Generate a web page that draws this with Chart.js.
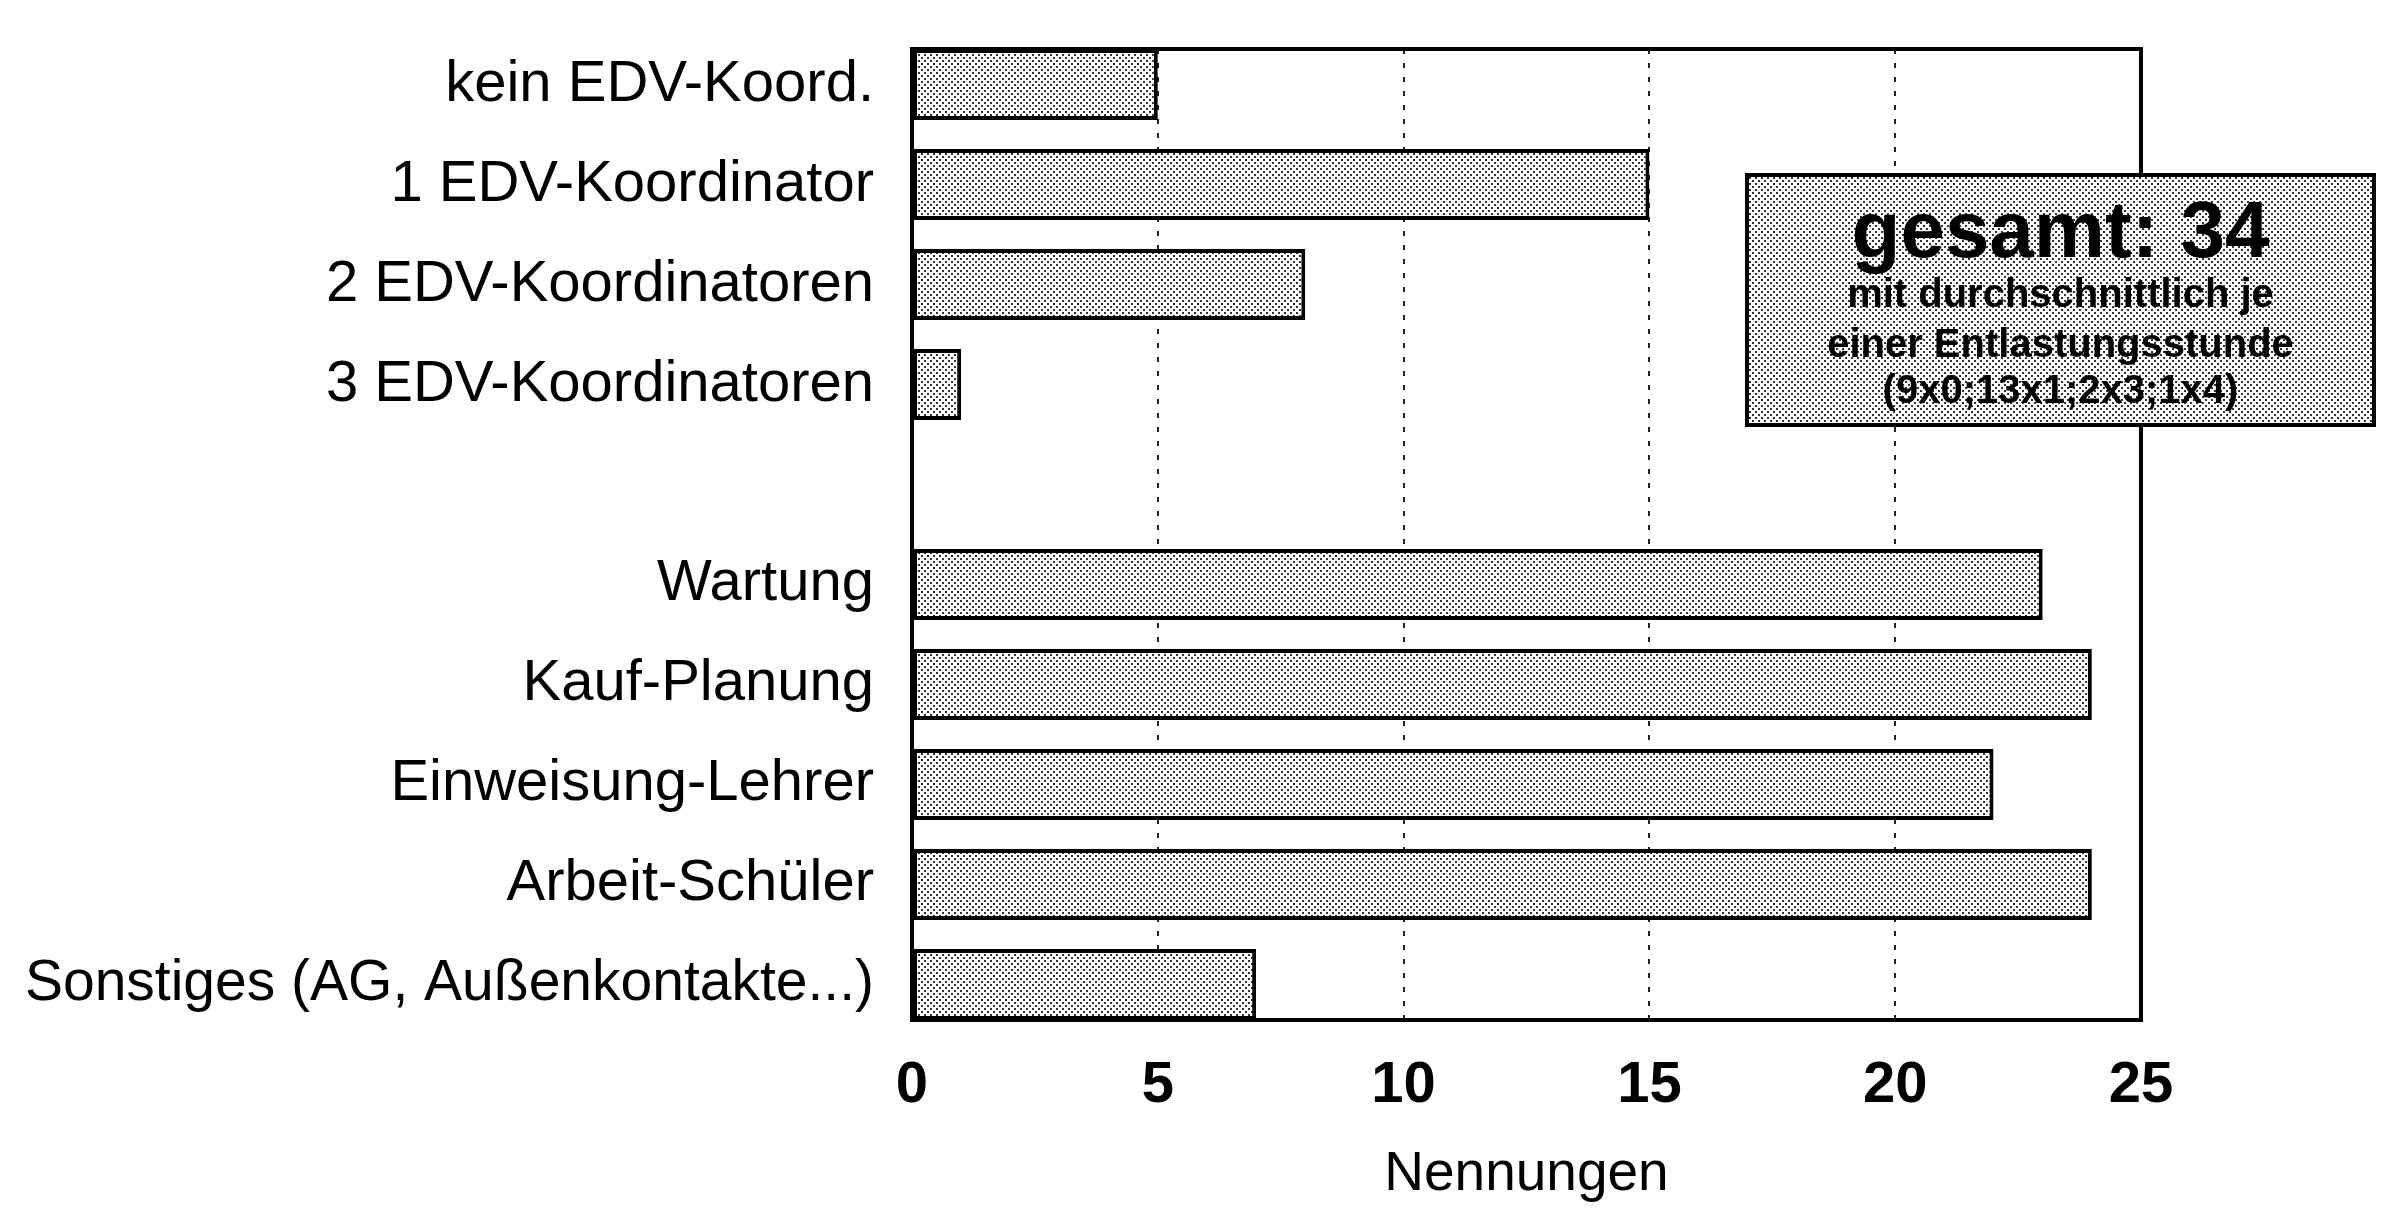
<!DOCTYPE html>
<html><head><meta charset="utf-8">
<script src="https://cdn.jsdelivr.net/npm/chart.js@4"></script>
<style>html,body{margin:0;padding:0;background:#fff;overflow:hidden;}canvas{display:block;}</style>
</head><body><canvas id="c" width="2400" height="1214"></canvas>
<script>
const categories = ['kein EDV-Koord.', '1 EDV-Koordinator', '2 EDV-Koordinatoren', '3 EDV-Koordinatoren', '', 'Wartung', 'Kauf-Planung', 'Einweisung-Lehrer', 'Arbeit-Schüler', 'Sonstiges (AG, Außenkontakte...)'];
const values = [5, 15, 8, 1, null, 23, 24, 22, 24, 7];
const xTicks = [0, 5, 10, 15, 20, 25];
const axisTitle = 'Nennungen';
const boxTitle = 'gesamt: 34';
const boxLines = ['mit durchschnittlich je', 'einer Entlastungsstunde', '(9x0;13x1;2x3;1x4)'];

function makePattern(dot) {
  const t = document.createElement('canvas');
  t.width = 6; t.height = 6;
  const g = t.getContext('2d');
  g.fillStyle = '#fff'; g.fillRect(0, 0, 6, 6);
  g.fillStyle = dot;
  g.fillRect(0, 0, 2, 2);
  g.fillRect(3, 3, 2, 2);
  return g.createPattern(t, 'repeat');
}
const ctx0 = document.getElementById('c').getContext('2d');
const barPattern = makePattern('#333');
const boxPattern = makePattern('#333');

const pointData = values.map((v, i) => ({ x: v, y: i })).filter(p => p.x !== null);

function zeroPad(scale) {
  scale.paddingTop = 0; scale.paddingBottom = 0;
  scale.paddingLeft = 0; scale.paddingRight = 0;
}

const framePlugin = {
  id: 'frame',
  afterDraw(chart) {
    const { ctx, chartArea: a } = chart;
    ctx.save();
    ctx.strokeStyle = '#000';
    ctx.lineWidth = 4;
    ctx.strokeRect(a.left, a.top, a.right - a.left, a.bottom - a.top);
    // annotation box
    const bx = 1747, by = 175, bw = 627, bh = 250;
    ctx.fillStyle = boxPattern;
    ctx.fillRect(bx, by, bw, bh);
    ctx.lineWidth = 4;
    ctx.strokeRect(bx, by, bw, bh);
    ctx.fillStyle = '#000';
    ctx.textAlign = 'center';
    ctx.textBaseline = 'middle';
    const cx = bx + bw / 2;
    ctx.font = 'bold 80px "Liberation Sans", Arial, sans-serif';
    ctx.fillText(boxTitle, cx, 235);
    ctx.font = 'bold 40px "Liberation Sans", Arial, sans-serif';
    const ys = [296, 346, 392];
    boxLines.forEach((l, i) => ctx.fillText(l, cx, ys[i]));
    ctx.restore();
  }
};

new Chart(ctx0, {
  type: 'bar',
  data: {
    datasets: [{
      data: pointData,
      backgroundColor: barPattern,
      borderColor: '#000',
      borderWidth: 4,
      borderSkipped: false,
      categoryPercentage: 1,
      barPercentage: 0.71
    }]
  },
  options: {
    indexAxis: 'y',
    responsive: false,
    devicePixelRatio: 1,
    animation: false,
    layout: { padding: { top: 49, right: 259, left: 0, bottom: 0 } },
    plugins: { legend: { display: false }, tooltip: { enabled: false } },
    scales: {
      y: {
        type: 'linear',
        offset: false,
        min: -0.356,
        max: 9.356,
        reverse: true,
        afterBuildTicks(scale) {
          scale.ticks = categories.map((c, i) => ({ value: i })).filter(t => categories[t.value] !== '');
        },
        afterFit(scale) { scale.width = 912; zeroPad(scale); },
        grid: { display: false, drawTicks: false, offset: false },
        border: { display: false },
        ticks: {
          padding: 38,
          color: '#000',
          callback: (v) => categories[v],
          font: (c) => {
            const idx = c.tick ? c.tick.value : 0;
            if (idx === 9) return { family: '"Liberation Sans Narrow", "Liberation Sans", Arial, sans-serif', size: 57 };
            return { family: '"Liberation Sans", Arial, sans-serif', size: 58 };
          }
        }
      },
      x: {
        type: 'linear',
        min: 0,
        max: 25,
        afterBuildTicks(scale) { scale.ticks = xTicks.map(v => ({ value: v })); },
        afterFit(scale) { scale.height = 194; zeroPad(scale); },
        grid: {
          drawTicks: false,
          lineWidth: 2,
          color: (c) => (c.tick && (c.tick.value === 0 || c.tick.value === 25)) ? 'rgba(0,0,0,0)' : '#222'
        },
        border: { display: false, dash: [5, 9] },
        ticks: {
          padding: 31,
          color: '#000',
          font: { family: '"Liberation Sans Narrow", "Liberation Sans", Arial, sans-serif', size: 58, weight: 'bold' }
        },
        title: {
          display: true,
          text: axisTitle,
          color: '#000',
          font: { family: '"Liberation Sans", Arial, sans-serif', size: 55 },
          padding: { top: 0, bottom: 6 }
        }
      }
    }
  },
  plugins: [framePlugin]
});
</script>
</body></html>
